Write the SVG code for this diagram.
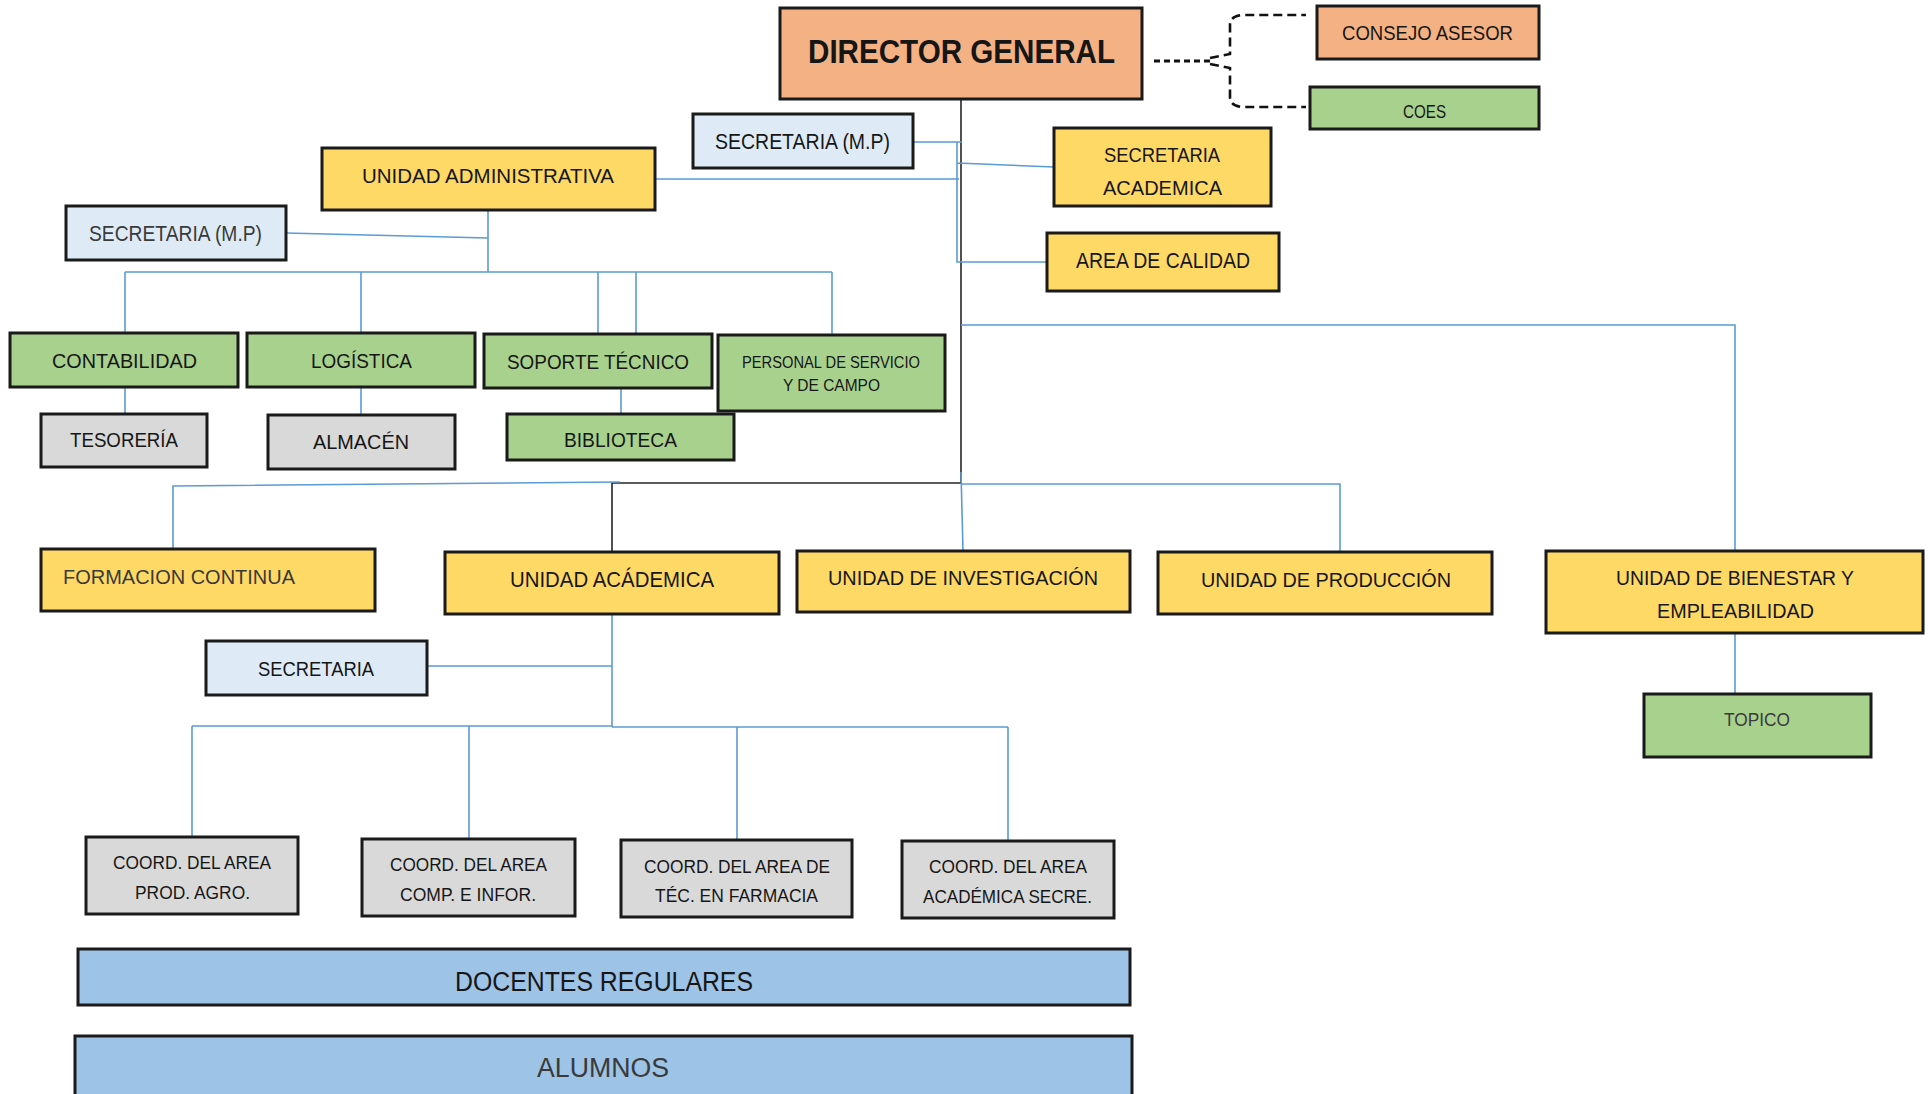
<svg xmlns="http://www.w3.org/2000/svg" width="1928" height="1094" viewBox="0 0 1928 1094">
<style>
.b{stroke:#1a1a1a;stroke-width:3}
.or{fill:#F4B183}.gr{fill:#A9D18E}.ye{fill:#FFD966}.lb{fill:#DEEBF7}.gy{fill:#D9D9D9}.bl{fill:#9DC3E6}
text{font-family:"Liberation Sans",Arial,sans-serif;fill:#161616}
.g{fill:#3a3a3a}
.c{fill:none;stroke:#5B9BD5;stroke-width:1.6}
.k{fill:none;stroke:#262626;stroke-width:1.6}
.d{fill:none;stroke:#111;stroke-width:3.2;stroke-dasharray:6 4}
.e{fill:none;stroke:#111;stroke-width:2.6;stroke-dasharray:9 5}
</style>
<rect width="1928" height="1094" fill="#fff"/>
<g id="connectors">
<path class="k" d="M961 98V483H612V552"/>
<path class="d" d="M1154 61H1214"/>
<path class="e" d="M1210 58L1230 54V25Q1230 15 1245 15H1306M1210 64L1230 68V97Q1230 107 1245 107H1306"/>
<path class="c" d="M913 142H962M957 142V262H1047M957 163L1054 167M655 179H959"/>
<path class="c" d="M488 210V272M286 233L488 238M125 272H832M125 272V333M361 272V333M598 272V334M636 272V334M832 272V335"/>
<path class="c" d="M125 387V414M361 387V415M621 388V414"/>
<path class="c" d="M620 482L173 486L173 549"/>
<path class="c" d="M961 484H1340V552M961 472L963 551M961 325H1735V551M1735 633V694"/>
<path class="c" d="M612 614V727M427 666H612M192 726H612M612 727H1008M192 726V837M469 726V839M737 727V840M1008 727V841"/>
</g>
<g id="director"><rect class="b or" x="780" y="8" width="362" height="91"/><text x="808" y="63" font-size="33" font-weight="bold" textLength="307" lengthAdjust="spacingAndGlyphs">DIRECTOR GENERAL</text></g>
<g id="consejo"><rect class="b or" x="1317" y="6" width="222" height="53"/><text x="1342" y="40" font-size="21" textLength="171" lengthAdjust="spacingAndGlyphs">CONSEJO ASESOR</text></g>
<g id="coes"><rect class="b gr" x="1310" y="87" width="229" height="42"/><text x="1403" y="118" font-size="18" textLength="43" lengthAdjust="spacingAndGlyphs">COES</text></g>
<g id="secretaria-mp-1"><rect class="b lb" x="693" y="114" width="220" height="54"/><text x="715" y="149" font-size="22" textLength="175" lengthAdjust="spacingAndGlyphs">SECRETARIA (M.P)</text></g>
<g id="secretaria-academica"><rect class="b ye" x="1054" y="128" width="217" height="78"/><text x="1104" y="162" font-size="21" textLength="116" lengthAdjust="spacingAndGlyphs">SECRETARIA</text><text x="1103" y="195" font-size="21" textLength="119" lengthAdjust="spacingAndGlyphs">ACADEMICA</text></g>
<g id="area-calidad"><rect class="b ye" x="1047" y="233" width="232" height="58"/><text x="1076" y="268" font-size="22" textLength="174" lengthAdjust="spacingAndGlyphs">AREA DE CALIDAD</text></g>
<g id="unidad-administrativa"><rect class="b ye" x="322" y="148" width="333" height="62"/><text x="362" y="183" font-size="21" textLength="252" lengthAdjust="spacingAndGlyphs">UNIDAD ADMINISTRATIVA</text></g>
<g id="secretaria-mp-2"><rect class="b lb" x="66" y="206" width="220" height="54"/><text class="g" x="89" y="241" font-size="22" textLength="173" lengthAdjust="spacingAndGlyphs">SECRETARIA (M.P)</text></g>
<g id="contabilidad"><rect class="b gr" x="10" y="333" width="228" height="54"/><text x="52" y="368" font-size="21" textLength="145" lengthAdjust="spacingAndGlyphs">CONTABILIDAD</text></g>
<g id="logistica"><rect class="b gr" x="247" y="333" width="228" height="54"/><text x="311" y="368" font-size="21" textLength="101" lengthAdjust="spacingAndGlyphs">LOGÍSTICA</text></g>
<g id="soporte"><rect class="b gr" x="484" y="334" width="228" height="54"/><text x="507" y="369" font-size="21" textLength="182" lengthAdjust="spacingAndGlyphs">SOPORTE TÉCNICO</text></g>
<g id="personal"><rect class="b gr" x="718" y="335" width="227" height="76"/><text x="742" y="368" font-size="16" textLength="178" lengthAdjust="spacingAndGlyphs">PERSONAL DE SERVICIO</text><text x="783" y="391" font-size="16" textLength="97" lengthAdjust="spacingAndGlyphs">Y DE CAMPO</text></g>
<g id="tesoreria"><rect class="b gy" x="41" y="414" width="166" height="53"/><text x="70" y="447" font-size="21" textLength="108" lengthAdjust="spacingAndGlyphs">TESORERÍA</text></g>
<g id="almacen"><rect class="b gy" x="268" y="415" width="187" height="54"/><text x="313" y="449" font-size="21" textLength="96" lengthAdjust="spacingAndGlyphs">ALMACÉN</text></g>
<g id="biblioteca"><rect class="b gr" x="507" y="414" width="227" height="46"/><text x="564" y="447" font-size="21" textLength="113" lengthAdjust="spacingAndGlyphs">BIBLIOTECA</text></g>
<g id="formacion"><rect class="b ye" x="41" y="549" width="334" height="62"/><text class="g" x="63" y="584" font-size="21" textLength="232" lengthAdjust="spacingAndGlyphs">FORMACION CONTINUA</text></g>
<g id="unidad-academica"><rect class="b ye" x="445" y="552" width="334" height="62"/><text x="510" y="587" font-size="22" textLength="204" lengthAdjust="spacingAndGlyphs">UNIDAD ACÁDEMICA</text></g>
<g id="investigacion"><rect class="b ye" x="797" y="551" width="333" height="61"/><text x="828" y="585" font-size="21" textLength="270" lengthAdjust="spacingAndGlyphs">UNIDAD DE INVESTIGACIÓN</text></g>
<g id="produccion"><rect class="b ye" x="1158" y="552" width="334" height="62"/><text x="1201" y="587" font-size="21" textLength="250" lengthAdjust="spacingAndGlyphs">UNIDAD DE PRODUCCIÓN</text></g>
<g id="bienestar"><rect class="b ye" x="1546" y="551" width="377" height="82"/><text x="1616" y="585" font-size="21" textLength="238" lengthAdjust="spacingAndGlyphs">UNIDAD DE BIENESTAR Y</text><text x="1657" y="618" font-size="21" textLength="157" lengthAdjust="spacingAndGlyphs">EMPLEABILIDAD</text></g>
<g id="topico"><rect class="b gr" x="1644" y="694" width="227" height="63"/><text class="g" x="1724" y="726" font-size="18" textLength="66" lengthAdjust="spacingAndGlyphs">TOPICO</text></g>
<g id="secretaria"><rect class="b lb" x="206" y="641" width="221" height="54"/><text x="258" y="676" font-size="21" textLength="116" lengthAdjust="spacingAndGlyphs">SECRETARIA</text></g>
<g id="coord-agro"><rect class="b gy" x="86" y="837" width="212" height="77"/><text x="113" y="869" font-size="18" textLength="158" lengthAdjust="spacingAndGlyphs">COORD. DEL AREA</text><text x="135" y="899" font-size="18" textLength="115" lengthAdjust="spacingAndGlyphs">PROD. AGRO.</text></g>
<g id="coord-comp"><rect class="b gy" x="362" y="839" width="213" height="77"/><text x="390" y="871" font-size="18" textLength="157" lengthAdjust="spacingAndGlyphs">COORD. DEL AREA</text><text x="400" y="901" font-size="18" textLength="136" lengthAdjust="spacingAndGlyphs">COMP. E INFOR.</text></g>
<g id="coord-farmacia"><rect class="b gy" x="621" y="840" width="231" height="77"/><text x="644" y="873" font-size="18" textLength="186" lengthAdjust="spacingAndGlyphs">COORD. DEL AREA DE</text><text x="655" y="902" font-size="18" textLength="163" lengthAdjust="spacingAndGlyphs">TÉC. EN FARMACIA</text></g>
<g id="coord-secre"><rect class="b gy" x="902" y="841" width="212" height="77"/><text x="929" y="873" font-size="18" textLength="158" lengthAdjust="spacingAndGlyphs">COORD. DEL AREA</text><text x="923" y="903" font-size="18" textLength="169" lengthAdjust="spacingAndGlyphs">ACADÉMICA SECRE.</text></g>
<g id="docentes"><rect class="b bl" x="78" y="949" width="1052" height="56"/><text x="455" y="991" font-size="27" textLength="298" lengthAdjust="spacingAndGlyphs">DOCENTES REGULARES</text></g>
<g id="alumnos"><rect class="b bl" x="75" y="1036" width="1057" height="70"/><text class="g" x="537" y="1077" font-size="27" textLength="132" lengthAdjust="spacingAndGlyphs">ALUMNOS</text></g>
</svg>
